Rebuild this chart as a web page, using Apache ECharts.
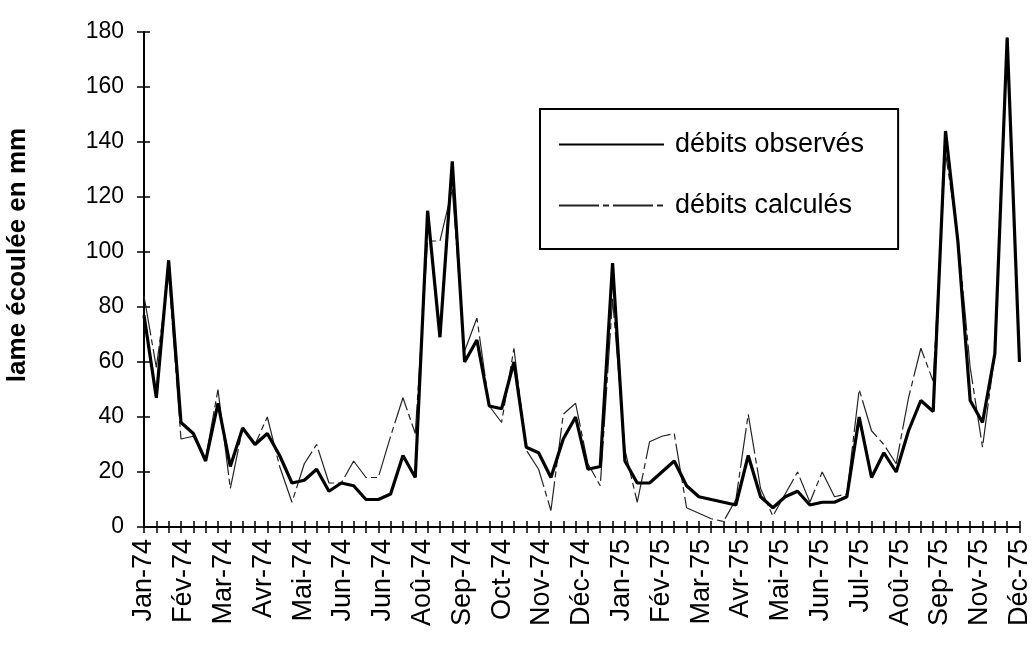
<!DOCTYPE html>
<html>
<head>
<meta charset="utf-8">
<title>lame écoulée</title>
<script src="https://cdn.jsdelivr.net/npm/echarts@6/dist/echarts.min.js"></script>
<style>
  html, body { margin: 0; padding: 0; background: #fff; }
  #chart { width: 1033px; height: 662px; }
</style>
</head>
<body>
<div id="chart"></div>
<script>
// Décades (3 par mois) de janvier 1974 à décembre 1975
const months = ["Jan", "Fév", "Mar", "Avr", "Mai", "Jun", "Jul", "Aoû", "Sep", "Oct", "Nov", "Déc"];
const years = ["74", "75"];
const categories = [];
years.forEach(y => {
  months.forEach(m => {
    for (let d = 1; d <= 3; d++) categories.push(m + "-" + y + " d" + d);
  });
});

// Etiquettes de l'axe des abscisses (telles qu'imprimées)
const tickLabels = [
  "Jan-74", "Fév-74", "Mar-74", "Avr-74", "Mai-74", "Jun-74", "Jun-74", "Aoû-74",
  "Sep-74", "Oct-74", "Nov-74", "Déc-74", "Jan-75", "Fév-75", "Mar-75", "Avr-75",
  "Mai-75", "Jun-75", "Jul-75", "Aoû-75", "Sep-75", "Nov-75", "Déc-75"
];
const labelIndex = tickLabels.map((t, i) => i);

// lame écoulée en mm
const observes = [
  77, 47, 97, 38, 34, 24, 45, 22, 36, 30, 34, 26,
  16, 17, 21, 13, 16, 15, 10, 10, 12, 26, 18, 115,
  69, 133, 60, 68, 44, 43, 60, 29, 27, 18, 32, 40,
  21, 22, 96, 24, 16, 16, 20, 24, 15, 11, 10, 9,
  8, 26, 11, 7, 11, 13, 8, 9, 9, 11, 40, 18,
  27, 20, 35, 46, 42, 144, 104, 46, 38, 63, 178, 60
];
const calcules = [
  84, 58, 92, 32, 33, 25, 50, 14, 36, 30, 40, 22,
  9, 23, 30, 16, 16, 24, 18, 18, 33, 47, 34, 104,
  104, 123, 64, 76, 44, 38, 65, 28, 21, 6, 41, 45,
  23, 15, 83, 28, 9, 31, 33, 34, 7, 5, 3, 2,
  10, 41, 14, 4, 12, 20, 9, 20, 11, 12, 50, 35,
  30, 23, 47, 65, 53, 136, 106, 58, 29, 63, 178, 60
];

const font = "'Liberation Sans', Arial, sans-serif";
const chart = echarts.init(document.getElementById("chart"));

const option = {
  backgroundColor: "#fff",
  animation: false,
  grid: { left: 144, right: 10, top: 32, bottom: 135, containLabel: false },
  legend: {
    orient: "vertical",
    left: 540,
    top: 109,
    itemWidth: 105,
    itemHeight: 14,
    itemGap: 34,
    padding: [22, 34, 30, 18],
    borderColor: "#000",
    borderWidth: 2,
    // pas de symbole, seulement le trait
    itemStyle: { opacity: 0 },
    textStyle: { fontFamily: font, fontSize: 27, color: "#000", padding: [0, 0, 0, 6] },
    data: ["débits observés", "débits calculés"]
  },
  graphic: [
    {
      type: "text",
      x: 18,
      y: 255,
      rotation: Math.PI / 2,
      style: {
        text: "lame écoulée en mm",
        font: "bold 26px " + font,
        fill: "#000",
        align: "center",
        verticalAlign: "middle"
      }
    }
  ],
  xAxis: [
    {
      // axe des décades, graduations vers le bas
      type: "category",
      data: categories,
      boundaryGap: false,
      position: "bottom",
      axisLine: { onZero: false, lineStyle: { color: "#000", width: 2 } },
      axisTick: { show: true, interval: 0, length: 6, lineStyle: { color: "#000", width: 1.5 } },
      axisLabel: { show: false },
      splitLine: { show: false }
    },
    {
      // mêmes graduations vers le haut (croisées)
      type: "category",
      data: categories,
      boundaryGap: false,
      position: "bottom",
      axisLine: { show: false, onZero: false },
      axisTick: { show: true, inside: true, interval: 0, length: 6, lineStyle: { color: "#000", width: 1.5 } },
      axisLabel: { show: false },
      splitLine: { show: false }
    },
    {
      // étiquettes des mois
      type: "value",
      min: 0,
      max: 22,
      position: "bottom",
      axisLine: { show: false, onZero: false },
      axisTick: { show: false },
      splitLine: { show: false },
      axisLabel: {
        show: true,
        customValues: labelIndex,
        rotate: 90,
        margin: 12,
        fontFamily: font,
        fontSize: 27,
        color: "#000",
        formatter: v => tickLabels[Math.round(v)] || ""
      }
    }
  ],
  yAxis: [
    {
      type: "value",
      min: 0,
      max: 180,
      interval: 20,
      position: "left",
      axisLine: { show: true, lineStyle: { color: "#000", width: 2 } },
      axisTick: { show: true, length: 7, lineStyle: { color: "#000", width: 1.5 } },
      axisLabel: { fontFamily: font, fontSize: 23, color: "#000", margin: 20 },
      splitLine: { show: false }
    },
    {
      type: "value",
      min: 0,
      max: 180,
      interval: 20,
      position: "left",
      axisLine: { show: false },
      axisTick: { show: true, inside: true, length: 6, lineStyle: { color: "#000", width: 1.5 } },
      axisLabel: { show: false },
      splitLine: { show: false }
    }
  ],
  series: [
    {
      name: "débits observés",
      type: "line",
      xAxisIndex: 0,
      yAxisIndex: 0,
      data: observes,
      symbol: "none",
      lineStyle: { color: "#000", width: 3.2 },
      itemStyle: { color: "#000" },
      z: 3
    },
    {
      name: "débits calculés",
      type: "line",
      xAxisIndex: 0,
      yAxisIndex: 0,
      data: calcules,
      symbol: "none",
      lineStyle: { color: "#222", width: 1.2, type: [40, 4, 6, 4] },
      itemStyle: { color: "#222" },
      z: 2
    }
  ]
};

chart.setOption(option);
</script>
</body>
</html>
